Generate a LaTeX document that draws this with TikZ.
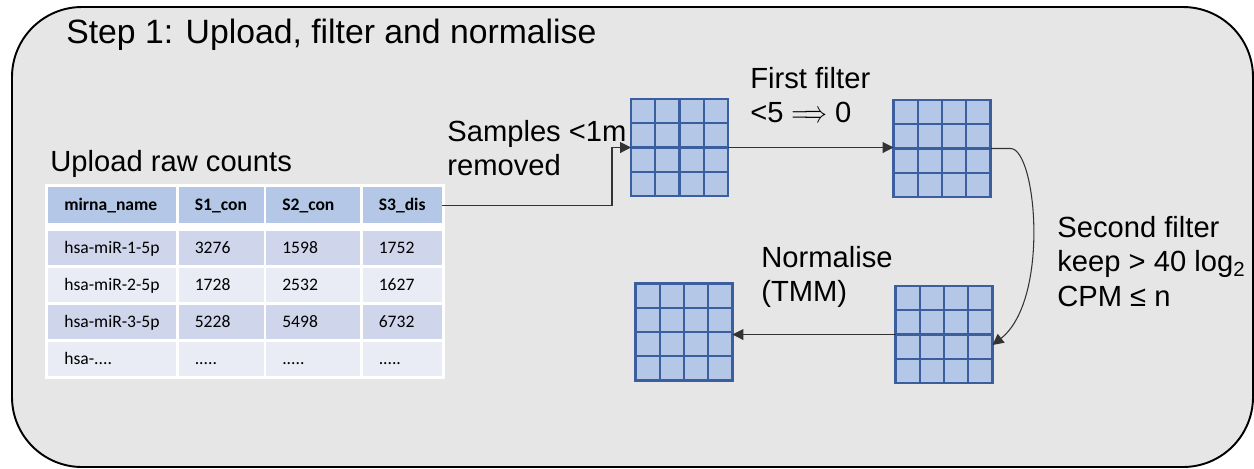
\documentclass[tikz,border=0pt]{standalone}
\usepackage{fontspec}
\setmainfont{Liberation Sans}
\newfontfamily\tablefont{Carlito}
\usetikzlibrary{arrows.meta,matrix,calc}
\definecolor{panel}{HTML}{E6E6E6}
\definecolor{cellfill}{HTML}{B4C7E7}
\definecolor{cellline}{HTML}{3A5E9E}
\definecolor{rowdark}{HTML}{CFD5EA}
\definecolor{rowlight}{HTML}{E9EBF5}
\definecolor{wire}{HTML}{333333}

\begin{document}
\begin{tikzpicture}[x=0.02cm, y=-0.02cm,
    heading/.style={font=\fontsize{19.2}{23}\selectfont, inner sep=0pt, anchor=base west},
    label/.style={font=\fontsize{16.6}{19.5}\selectfont, inner sep=0pt, align=left, anchor=north west},
    countgrid/.style={draw=cellline, fill=cellfill, line width=1.2pt, minimum size=1.94cm, inner sep=0pt, outer sep=0pt},
    gridline/.style={draw=cellline, line width=1.2pt},
    link/.style={-{Triangle[length=0.22cm,width=0.22cm]}, color=wire, line width=0.6pt},
    hdr/.style={fill=cellfill, font=\tablefont\bfseries\fontsize{10}{12}\selectfont, minimum height=0.72cm},
    darkrow/.style={fill=rowdark},
    lightrow/.style={fill=rowlight}
]
    \path[use as bounding box, fill=white] (0,0) rectangle (1254,468);
    \draw[fill=panel, line width=1.1pt, rounded corners=1.4cm] (12,7) rectangle (1253,467);

    \node[heading] (title) at (66,43) {Step 1: Upload, filter and normalise};
    \node[label, anchor=base west] (upload) at (50,171) {Upload raw counts};

    % raw count table
    \matrix (counts) [matrix of nodes, anchor=north west, fill=white, inner sep=0.06cm,
        column sep=0.05cm, row sep=0.06cm,
        nodes={minimum height=0.68cm, text height=0.26cm, text depth=0.07cm,
            inner xsep=0.32cm, align=left,
            font=\tablefont\fontsize{10}{12}\selectfont},
        column 1/.style={nodes={text width=1.92cm}},
        column 2/.style={nodes={text width=1.06cm}},
        column 3/.style={nodes={text width=1.24cm}},
        column 4/.style={nodes={text width=0.94cm}},
        row 1/.style={nodes=hdr},
        row 2/.style={nodes=darkrow},
        row 3/.style={nodes=lightrow},
        row 4/.style={nodes=darkrow},
        row 5/.style={nodes=lightrow}] at (45,184) {
        mirna\_name & S1\_con & S2\_con & S3\_dis \\[0.1cm]
        hsa-miR-1-5p & 3276 & 1598 & 1752 \\
        hsa-miR-2-5p & 1728 & 2532 & 1627 \\
        hsa-miR-3-5p & 5228 & 5498 & 6732 \\
        hsa-.... & ..... & ..... & ..... \\
    };

    % count matrices
    \node[countgrid] (raw) at (679.5,147.5) {};
    \node[countgrid] (first) at (942,148.5) {};
    \node[countgrid] (second) at (944,334.5) {};
    \node[countgrid] (norm) at (684,332) {};
    \foreach \g in {raw,first,second,norm}
        \foreach \f in {0.25,0.5,0.75} {
            \draw[gridline] ($(\g.north west)!\f!(\g.north east)$) -- ($(\g.south west)!\f!(\g.south east)$);
            \draw[gridline] ($(\g.north west)!\f!(\g.south west)$) -- ($(\g.north east)!\f!(\g.south east)$);
        }

    \node[label] (samples) at (447,120) {Samples <1m\\removed};
    \node[label] (firstlbl) at (750,67) {First filter\\<5 \scalebox{0.75}[1]{$\Longrightarrow$} 0};
    \node[label] (secondlbl) at (1057,216) {Second filter\\keep > 40 log\textsubscript{2}\\CPM ≤ n};
    \node[label] (normlbl) at (761,246) {Normalise\\(TMM)};

    \draw[link] (counts-1-4.east) -| ([xshift=-0.38cm]raw.west) -- (raw.west);
    \draw[link] (raw.east) -- (raw.east -| first.west);
    \draw[link] (first.east) -- ++(20,0) .. controls +(26,0) and (1050,300) .. ([yshift=-0.21cm]second.east);
    \draw[link] (second.west) -- (second.west -| norm.east);
\end{tikzpicture}
\end{document}
